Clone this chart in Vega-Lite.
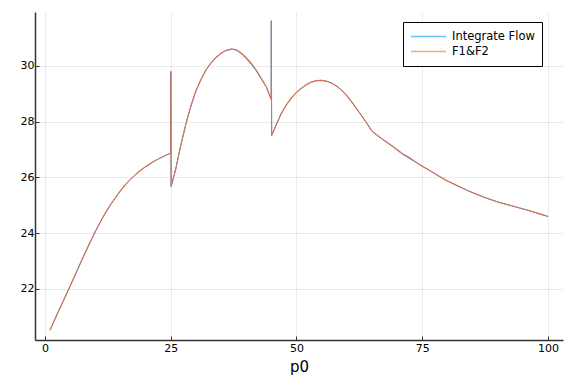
{
  "$schema": "https://vega.github.io/schema/vega-lite/v6.json",
  "width": 528,
  "height": 328,
  "autosize": "none",
  "padding": {"left": 35, "top": 12, "right": 13, "bottom": 44},
  "background": "white",
  "config": {
    "view": {"stroke": null},
    "font": "DejaVu Sans",
    "axis": {
      "gridColor": "#000000",
      "gridOpacity": 0.08,
      "gridWidth": 1,
      "domainColor": "#333333",
      "domainWidth": 1.5,
      "tickColor": "#333333",
      "tickSize": -4,
      "labelColor": "#000000",
      "labelFontSize": 11,
      "labelFont": "DejaVu Sans",
      "titleFont": "DejaVu Sans",
      "titleFontWeight": "normal",
      "titleColor": "#000000"
    }
  },
  "datasets": {
    "pts": [
      {"p0": 1, "y": 20.52, "series": "F1&F2"},
      {"p0": 2, "y": 20.92, "series": "F1&F2"},
      {"p0": 3, "y": 21.32, "series": "F1&F2"},
      {"p0": 4, "y": 21.71, "series": "F1&F2"},
      {"p0": 5, "y": 22.1, "series": "F1&F2"},
      {"p0": 6, "y": 22.5, "series": "F1&F2"},
      {"p0": 7, "y": 22.9, "series": "F1&F2"},
      {"p0": 8, "y": 23.3, "series": "F1&F2"},
      {"p0": 9, "y": 23.68, "series": "F1&F2"},
      {"p0": 10, "y": 24.05, "series": "F1&F2"},
      {"p0": 11, "y": 24.4, "series": "F1&F2"},
      {"p0": 12, "y": 24.72, "series": "F1&F2"},
      {"p0": 13, "y": 25.01, "series": "F1&F2"},
      {"p0": 14, "y": 25.27, "series": "F1&F2"},
      {"p0": 15, "y": 25.52, "series": "F1&F2"},
      {"p0": 16, "y": 25.74, "series": "F1&F2"},
      {"p0": 17, "y": 25.93, "series": "F1&F2"},
      {"p0": 18, "y": 26.1, "series": "F1&F2"},
      {"p0": 19, "y": 26.25, "series": "F1&F2"},
      {"p0": 20, "y": 26.38, "series": "F1&F2"},
      {"p0": 21, "y": 26.5, "series": "F1&F2"},
      {"p0": 22, "y": 26.61, "series": "F1&F2"},
      {"p0": 23, "y": 26.7, "series": "F1&F2"},
      {"p0": 24, "y": 26.79, "series": "F1&F2"},
      {"p0": 25, "y": 26.87, "series": "F1&F2"},
      {"p0": 25.02, "y": 29.82, "series": "F1&F2"},
      {"p0": 25.08, "y": 25.67, "series": "F1&F2"},
      {"p0": 26, "y": 26.3, "series": "F1&F2"},
      {"p0": 27, "y": 27.15, "series": "F1&F2"},
      {"p0": 28, "y": 27.9, "series": "F1&F2"},
      {"p0": 29, "y": 28.55, "series": "F1&F2"},
      {"p0": 30, "y": 29.1, "series": "F1&F2"},
      {"p0": 31, "y": 29.5, "series": "F1&F2"},
      {"p0": 32, "y": 29.85, "series": "F1&F2"},
      {"p0": 33, "y": 30.1, "series": "F1&F2"},
      {"p0": 34, "y": 30.3, "series": "F1&F2"},
      {"p0": 35, "y": 30.45, "series": "F1&F2"},
      {"p0": 36, "y": 30.55, "series": "F1&F2"},
      {"p0": 37, "y": 30.6, "series": "F1&F2"},
      {"p0": 38, "y": 30.58, "series": "F1&F2"},
      {"p0": 39, "y": 30.46, "series": "F1&F2"},
      {"p0": 40, "y": 30.3, "series": "F1&F2"},
      {"p0": 41, "y": 30.1, "series": "F1&F2"},
      {"p0": 42, "y": 29.85, "series": "F1&F2"},
      {"p0": 43, "y": 29.55, "series": "F1&F2"},
      {"p0": 44, "y": 29.25, "series": "F1&F2"},
      {"p0": 44.97, "y": 28.8, "series": "F1&F2"},
      {"p0": 45.0, "y": 31.63, "series": "F1&F2"},
      {"p0": 45.06, "y": 27.5, "series": "F1&F2"},
      {"p0": 46, "y": 27.9, "series": "F1&F2"},
      {"p0": 47, "y": 28.3, "series": "F1&F2"},
      {"p0": 48, "y": 28.6, "series": "F1&F2"},
      {"p0": 49, "y": 28.85, "series": "F1&F2"},
      {"p0": 50, "y": 29.05, "series": "F1&F2"},
      {"p0": 51, "y": 29.2, "series": "F1&F2"},
      {"p0": 52, "y": 29.33, "series": "F1&F2"},
      {"p0": 53, "y": 29.42, "series": "F1&F2"},
      {"p0": 54, "y": 29.47, "series": "F1&F2"},
      {"p0": 55, "y": 29.48, "series": "F1&F2"},
      {"p0": 56, "y": 29.45, "series": "F1&F2"},
      {"p0": 57, "y": 29.38, "series": "F1&F2"},
      {"p0": 58, "y": 29.27, "series": "F1&F2"},
      {"p0": 59, "y": 29.12, "series": "F1&F2"},
      {"p0": 60, "y": 28.93, "series": "F1&F2"},
      {"p0": 61, "y": 28.7, "series": "F1&F2"},
      {"p0": 62, "y": 28.45, "series": "F1&F2"},
      {"p0": 63, "y": 28.2, "series": "F1&F2"},
      {"p0": 64, "y": 27.93, "series": "F1&F2"},
      {"p0": 65, "y": 27.66, "series": "F1&F2"},
      {"p0": 66, "y": 27.52, "series": "F1&F2"},
      {"p0": 67, "y": 27.38, "series": "F1&F2"},
      {"p0": 68, "y": 27.26, "series": "F1&F2"},
      {"p0": 69, "y": 27.13, "series": "F1&F2"},
      {"p0": 70, "y": 27.0, "series": "F1&F2"},
      {"p0": 71, "y": 26.86, "series": "F1&F2"},
      {"p0": 72, "y": 26.76, "series": "F1&F2"},
      {"p0": 73, "y": 26.64, "series": "F1&F2"},
      {"p0": 74, "y": 26.52, "series": "F1&F2"},
      {"p0": 75, "y": 26.4, "series": "F1&F2"},
      {"p0": 76, "y": 26.3, "series": "F1&F2"},
      {"p0": 77, "y": 26.19, "series": "F1&F2"},
      {"p0": 78, "y": 26.08, "series": "F1&F2"},
      {"p0": 79, "y": 25.97, "series": "F1&F2"},
      {"p0": 80, "y": 25.87, "series": "F1&F2"},
      {"p0": 82, "y": 25.7, "series": "F1&F2"},
      {"p0": 84, "y": 25.53, "series": "F1&F2"},
      {"p0": 86, "y": 25.38, "series": "F1&F2"},
      {"p0": 88, "y": 25.24, "series": "F1&F2"},
      {"p0": 90, "y": 25.12, "series": "F1&F2"},
      {"p0": 92, "y": 25.02, "series": "F1&F2"},
      {"p0": 94, "y": 24.92, "series": "F1&F2"},
      {"p0": 96, "y": 24.82, "series": "F1&F2"},
      {"p0": 98, "y": 24.71, "series": "F1&F2"},
      {"p0": 100, "y": 24.6, "series": "F1&F2"},

      {"p0": 1, "y": 20.52, "series": "Integrate Flow"},
      {"p0": 2, "y": 20.92, "series": "Integrate Flow"},
      {"p0": 3, "y": 21.32, "series": "Integrate Flow"},
      {"p0": 4, "y": 21.71, "series": "Integrate Flow"},
      {"p0": 5, "y": 22.1, "series": "Integrate Flow"},
      {"p0": 6, "y": 22.5, "series": "Integrate Flow"},
      {"p0": 7, "y": 22.9, "series": "Integrate Flow"},
      {"p0": 8, "y": 23.3, "series": "Integrate Flow"},
      {"p0": 9, "y": 23.68, "series": "Integrate Flow"},
      {"p0": 10, "y": 24.05, "series": "Integrate Flow"},
      {"p0": 11, "y": 24.4, "series": "Integrate Flow"},
      {"p0": 12, "y": 24.72, "series": "Integrate Flow"},
      {"p0": 13, "y": 25.01, "series": "Integrate Flow"},
      {"p0": 14, "y": 25.27, "series": "Integrate Flow"},
      {"p0": 15, "y": 25.52, "series": "Integrate Flow"},
      {"p0": 16, "y": 25.74, "series": "Integrate Flow"},
      {"p0": 17, "y": 25.93, "series": "Integrate Flow"},
      {"p0": 18, "y": 26.1, "series": "Integrate Flow"},
      {"p0": 19, "y": 26.25, "series": "Integrate Flow"},
      {"p0": 20, "y": 26.38, "series": "Integrate Flow"},
      {"p0": 21, "y": 26.5, "series": "Integrate Flow"},
      {"p0": 22, "y": 26.61, "series": "Integrate Flow"},
      {"p0": 23, "y": 26.7, "series": "Integrate Flow"},
      {"p0": 24, "y": 26.79, "series": "Integrate Flow"},
      {"p0": 25, "y": 26.87, "series": "Integrate Flow"},
      {"p0": 25.02, "y": 29.78, "series": "Integrate Flow"},
      {"p0": 25.08, "y": 25.67, "series": "Integrate Flow"},
      {"p0": 26, "y": 26.3, "series": "Integrate Flow"},
      {"p0": 27, "y": 27.15, "series": "Integrate Flow"},
      {"p0": 28, "y": 27.9, "series": "Integrate Flow"},
      {"p0": 29, "y": 28.55, "series": "Integrate Flow"},
      {"p0": 30, "y": 29.1, "series": "Integrate Flow"},
      {"p0": 31, "y": 29.5, "series": "Integrate Flow"},
      {"p0": 32, "y": 29.85, "series": "Integrate Flow"},
      {"p0": 33, "y": 30.1, "series": "Integrate Flow"},
      {"p0": 34, "y": 30.3, "series": "Integrate Flow"},
      {"p0": 35, "y": 30.45, "series": "Integrate Flow"},
      {"p0": 36, "y": 30.55, "series": "Integrate Flow"},
      {"p0": 37, "y": 30.6, "series": "Integrate Flow"},
      {"p0": 38, "y": 30.57, "series": "Integrate Flow"},
      {"p0": 39, "y": 30.44, "series": "Integrate Flow"},
      {"p0": 40, "y": 30.26, "series": "Integrate Flow"},
      {"p0": 41, "y": 30.06, "series": "Integrate Flow"},
      {"p0": 42, "y": 29.82, "series": "Integrate Flow"},
      {"p0": 43, "y": 29.53, "series": "Integrate Flow"},
      {"p0": 44, "y": 29.24, "series": "Integrate Flow"},
      {"p0": 44.97, "y": 28.8, "series": "Integrate Flow"},
      {"p0": 45.0, "y": 31.6, "series": "Integrate Flow"},
      {"p0": 45.06, "y": 27.5, "series": "Integrate Flow"},
      {"p0": 46, "y": 27.9, "series": "Integrate Flow"},
      {"p0": 47, "y": 28.3, "series": "Integrate Flow"},
      {"p0": 48, "y": 28.6, "series": "Integrate Flow"},
      {"p0": 49, "y": 28.85, "series": "Integrate Flow"},
      {"p0": 50, "y": 29.05, "series": "Integrate Flow"},
      {"p0": 51, "y": 29.2, "series": "Integrate Flow"},
      {"p0": 52, "y": 29.33, "series": "Integrate Flow"},
      {"p0": 53, "y": 29.42, "series": "Integrate Flow"},
      {"p0": 54, "y": 29.47, "series": "Integrate Flow"},
      {"p0": 55, "y": 29.48, "series": "Integrate Flow"},
      {"p0": 56, "y": 29.45, "series": "Integrate Flow"},
      {"p0": 57, "y": 29.38, "series": "Integrate Flow"},
      {"p0": 58, "y": 29.27, "series": "Integrate Flow"},
      {"p0": 59, "y": 29.12, "series": "Integrate Flow"},
      {"p0": 60, "y": 28.93, "series": "Integrate Flow"},
      {"p0": 61, "y": 28.7, "series": "Integrate Flow"},
      {"p0": 62, "y": 28.45, "series": "Integrate Flow"},
      {"p0": 63, "y": 28.2, "series": "Integrate Flow"},
      {"p0": 64, "y": 27.93, "series": "Integrate Flow"},
      {"p0": 65, "y": 27.66, "series": "Integrate Flow"},
      {"p0": 66, "y": 27.52, "series": "Integrate Flow"},
      {"p0": 67, "y": 27.38, "series": "Integrate Flow"},
      {"p0": 68, "y": 27.25, "series": "Integrate Flow"},
      {"p0": 69, "y": 27.12, "series": "Integrate Flow"},
      {"p0": 70, "y": 26.98, "series": "Integrate Flow"},
      {"p0": 71, "y": 26.84, "series": "Integrate Flow"},
      {"p0": 72, "y": 26.73, "series": "Integrate Flow"},
      {"p0": 73, "y": 26.62, "series": "Integrate Flow"},
      {"p0": 74, "y": 26.51, "series": "Integrate Flow"},
      {"p0": 75, "y": 26.4, "series": "Integrate Flow"},
      {"p0": 76, "y": 26.3, "series": "Integrate Flow"},
      {"p0": 77, "y": 26.19, "series": "Integrate Flow"},
      {"p0": 78, "y": 26.08, "series": "Integrate Flow"},
      {"p0": 79, "y": 25.97, "series": "Integrate Flow"},
      {"p0": 80, "y": 25.87, "series": "Integrate Flow"},
      {"p0": 82, "y": 25.7, "series": "Integrate Flow"},
      {"p0": 84, "y": 25.53, "series": "Integrate Flow"},
      {"p0": 86, "y": 25.38, "series": "Integrate Flow"},
      {"p0": 88, "y": 25.24, "series": "Integrate Flow"},
      {"p0": 90, "y": 25.12, "series": "Integrate Flow"},
      {"p0": 92, "y": 25.02, "series": "Integrate Flow"},
      {"p0": 94, "y": 24.92, "series": "Integrate Flow"},
      {"p0": 96, "y": 24.82, "series": "Integrate Flow"},
      {"p0": 98, "y": 24.71, "series": "Integrate Flow"},
      {"p0": 100, "y": 24.6, "series": "Integrate Flow"}
    ]
  },
  "data": {"name": "pts"},
  "encoding": {
    "x": {
      "field": "p0", "type": "quantitative",
      "scale": {"domain": [-1.97, 102.97], "nice": false, "zero": false},
      "axis": {"values": [0, 25, 50, 75, 100], "title": "p0", "titleFontSize": 15, "titlePadding": 6, "labelPadding": 6}
    },
    "y": {
      "field": "y", "type": "quantitative",
      "scale": {"domain": [20.17, 31.93], "nice": false, "zero": false},
      "axis": {"values": [22, 24, 26, 28, 30], "title": null, "labelPadding": 5}
    },
    "color": {
      "field": "series", "type": "nominal",
      "scale": {"domain": ["Integrate Flow", "F1&F2"], "range": ["#009AFA", "#E36F47"]},
      "legend": {
        "title": null,
        "orient": "none",
        "legendX": 368,
        "legendY": 10,
        "direction": "vertical",
        "strokeColor": "#000000",
        "fillColor": "#ffffff",
        "padding": 7,
        "clipHeight": 15,
        "symbolType": "stroke",
        "symbolSize": 1225,
        "symbolStrokeWidth": 1.5,
        "symbolOpacity": 0.6,
        "labelFontSize": 11.5,
        "labelColor": "#000000",
        "labelOffset": 5,
        "rowPadding": 0,
        "labelLimit": 200
      }
    }
  },
  "layer": [
    {
      "transform": [{"filter": "datum.series === 'Integrate Flow'"}],
      "mark": {"type": "line", "strokeWidth": 1, "interpolate": "linear"}
    },
    {
      "transform": [{"filter": "datum.series === 'F1&F2'"}],
      "mark": {"type": "line", "strokeWidth": 1.1, "interpolate": "linear"}
    }
  ]
}
